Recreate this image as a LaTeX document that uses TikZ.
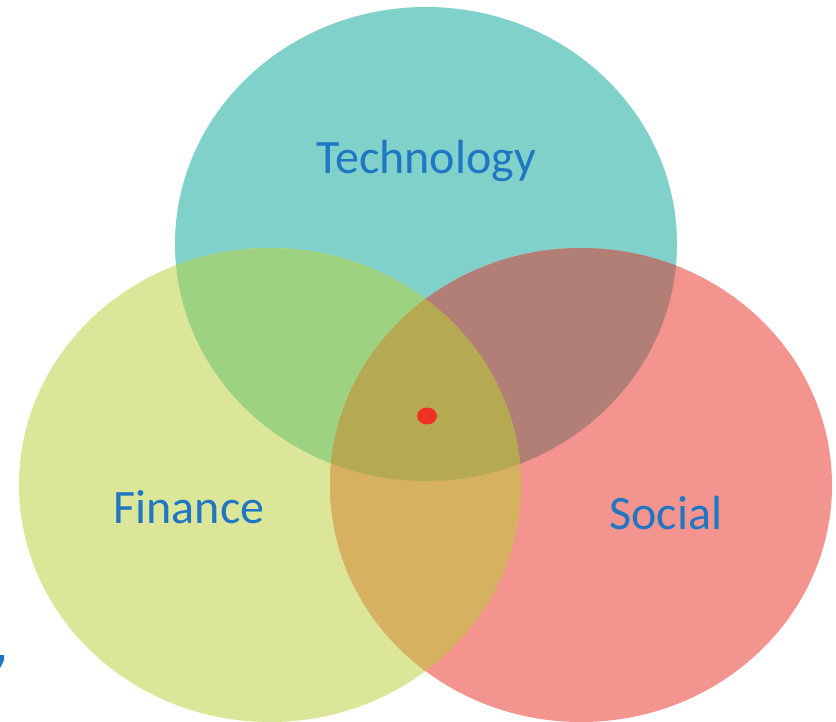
\documentclass[tikz,border=0pt]{standalone}
\usepackage{fontspec}
\setmainfont{Carlito}
\usepackage{tikz}

\definecolor{techcol}{HTML}{80D1CA}
\definecolor{fincol}{HTML}{DCE699}
\definecolor{soccol}{HTML}{F4948E}
\definecolor{techfin}{HTML}{9DD380}
\definecolor{techsoc}{HTML}{B27F76}
\definecolor{finsoc}{HTML}{D6B260}
\definecolor{allcol}{HTML}{B5A951}
\definecolor{dotcol}{HTML}{EE3124}
\definecolor{lblcol}{HTML}{1F77C4}

\def\techpath{(426,244) ellipse [x radius=251, y radius=237]}
\def\finpath{(270,485) ellipse [x radius=251, y radius=237]}
\def\socpath{(581,485) ellipse [x radius=251, y radius=237]}

\tikzset{
  lbl/.style={anchor=base, text=lblcol, font=\fontsize{48}{58}\selectfont},
}

\begin{document}
\begin{tikzpicture}[x=1pt,y=-1pt]
\useasboundingbox (0,0) rectangle (836,721);

\fill[techcol] \techpath;
\fill[fincol] \finpath;
\fill[soccol] \socpath;

\begin{scope}
\clip \techpath;
\fill[techfin] \finpath;
\fill[techsoc] \socpath;
\end{scope}
\begin{scope}
\clip \finpath;
\fill[finsoc] \socpath;
\clip \techpath;
\fill[allcol] \socpath;
\end{scope}

\fill[dotcol] (427,416) ellipse [x radius=10, y radius=8.5];
\fill[lblcol] (0,655) -- (4,655) to[out=-80,in=60] (0,668) -- cycle;

\node[lbl] (tech) at (426,173) {Technology};
\node[lbl] (fin) at (189,523) {Finance};
\node[lbl] (soc) at (666,529) {Social};
\end{tikzpicture}
\end{document}
